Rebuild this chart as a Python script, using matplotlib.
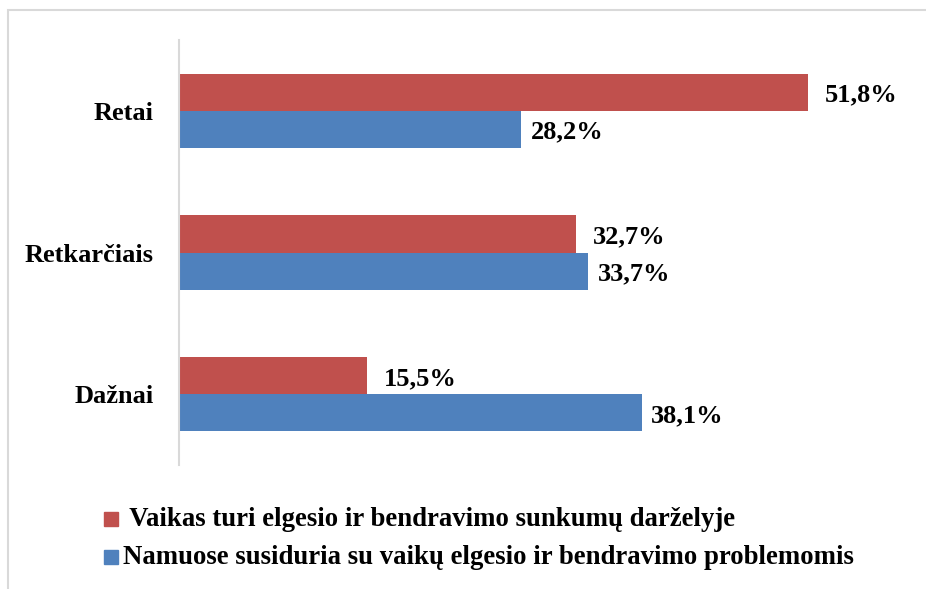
import numpy as np
import matplotlib.pyplot as plt
from matplotlib.patches import Rectangle

categories = ["Retai", "Retkarčiais", "Dažnai"]
darzelyje = [51.8, 32.7, 15.5]
namuose = [28.2, 33.7, 38.1]
labels_darz = ["51,8%", "32,7%", "15,5%"]
labels_nam = ["28,2%", "33,7%", "38,1%"]
series_names = [" Vaikas turi elgesio ir bendravimo sunkumų darželyje",
                "Namuose susiduria su vaikų elgesio ir bendravimo problemomis"]

red = "#C0504D"
blue = "#4F81BD"
font = "Liberation Serif"
fs = 19

fig = plt.figure(figsize=(9.26, 5.89), dpi=100)
ax = fig.add_axes([179 / 926, 1 - 465 / 589, 728.5 / 926, 425 / 589])

y = np.arange(len(categories))
h = 0.262
ax.barh(y - h / 2, darzelyje, height=h, color=red)
ax.barh(y + h / 2, namuose, height=h, color=blue)

for i in range(len(categories)):
    ax.annotate(labels_darz[i], (darzelyje[i], y[i] - h / 2), xytext=(12, -2),
                textcoords="offset points", va="center", ha="left",
                fontsize=fs, fontweight="bold", family=font)
    ax.annotate(labels_nam[i], (namuose[i], y[i] + h / 2), xytext=(7, -2),
                textcoords="offset points", va="center", ha="left",
                fontsize=fs, fontweight="bold", family=font)

ax.set_xlim(0, 60)
ax.set_ylim(2.5, -0.5)
ax.set_yticks(y)
ax.set_yticklabels(categories, fontsize=fs, fontweight="bold", family=font)
ax.set_xticks([])
ax.tick_params(axis="y", length=0, pad=18)
for s in ["top", "right", "bottom"]:
    ax.spines[s].set_visible(False)
ax.spines["left"].set_color("#d9d9d9")
ax.spines["left"].set_linewidth(1.5)

# outer chart frame (only top and left edges are visible in the crop)
fig.patches.append(Rectangle((8 / 926, -0.1), 1.2, 1.1 - 10 / 589,
                             transform=fig.transFigure, fill=False,
                             edgecolor="#d9d9d9", linewidth=1.5))

# legend
for k, (name, col) in enumerate(zip(series_names, [red, blue])):
    yc = 1 - (519 + 38 * k) / 589
    fig.patches.append(Rectangle((104 / 926, yc - 7 / 589), 14 / 926, 14 / 589,
                                 transform=fig.transFigure, color=col))
    fig.text(123 / 926, yc, name, va="center", ha="left", fontsize=19.3,
             fontweight="bold", family=font)

fig.savefig("out.png", dpi=100)
